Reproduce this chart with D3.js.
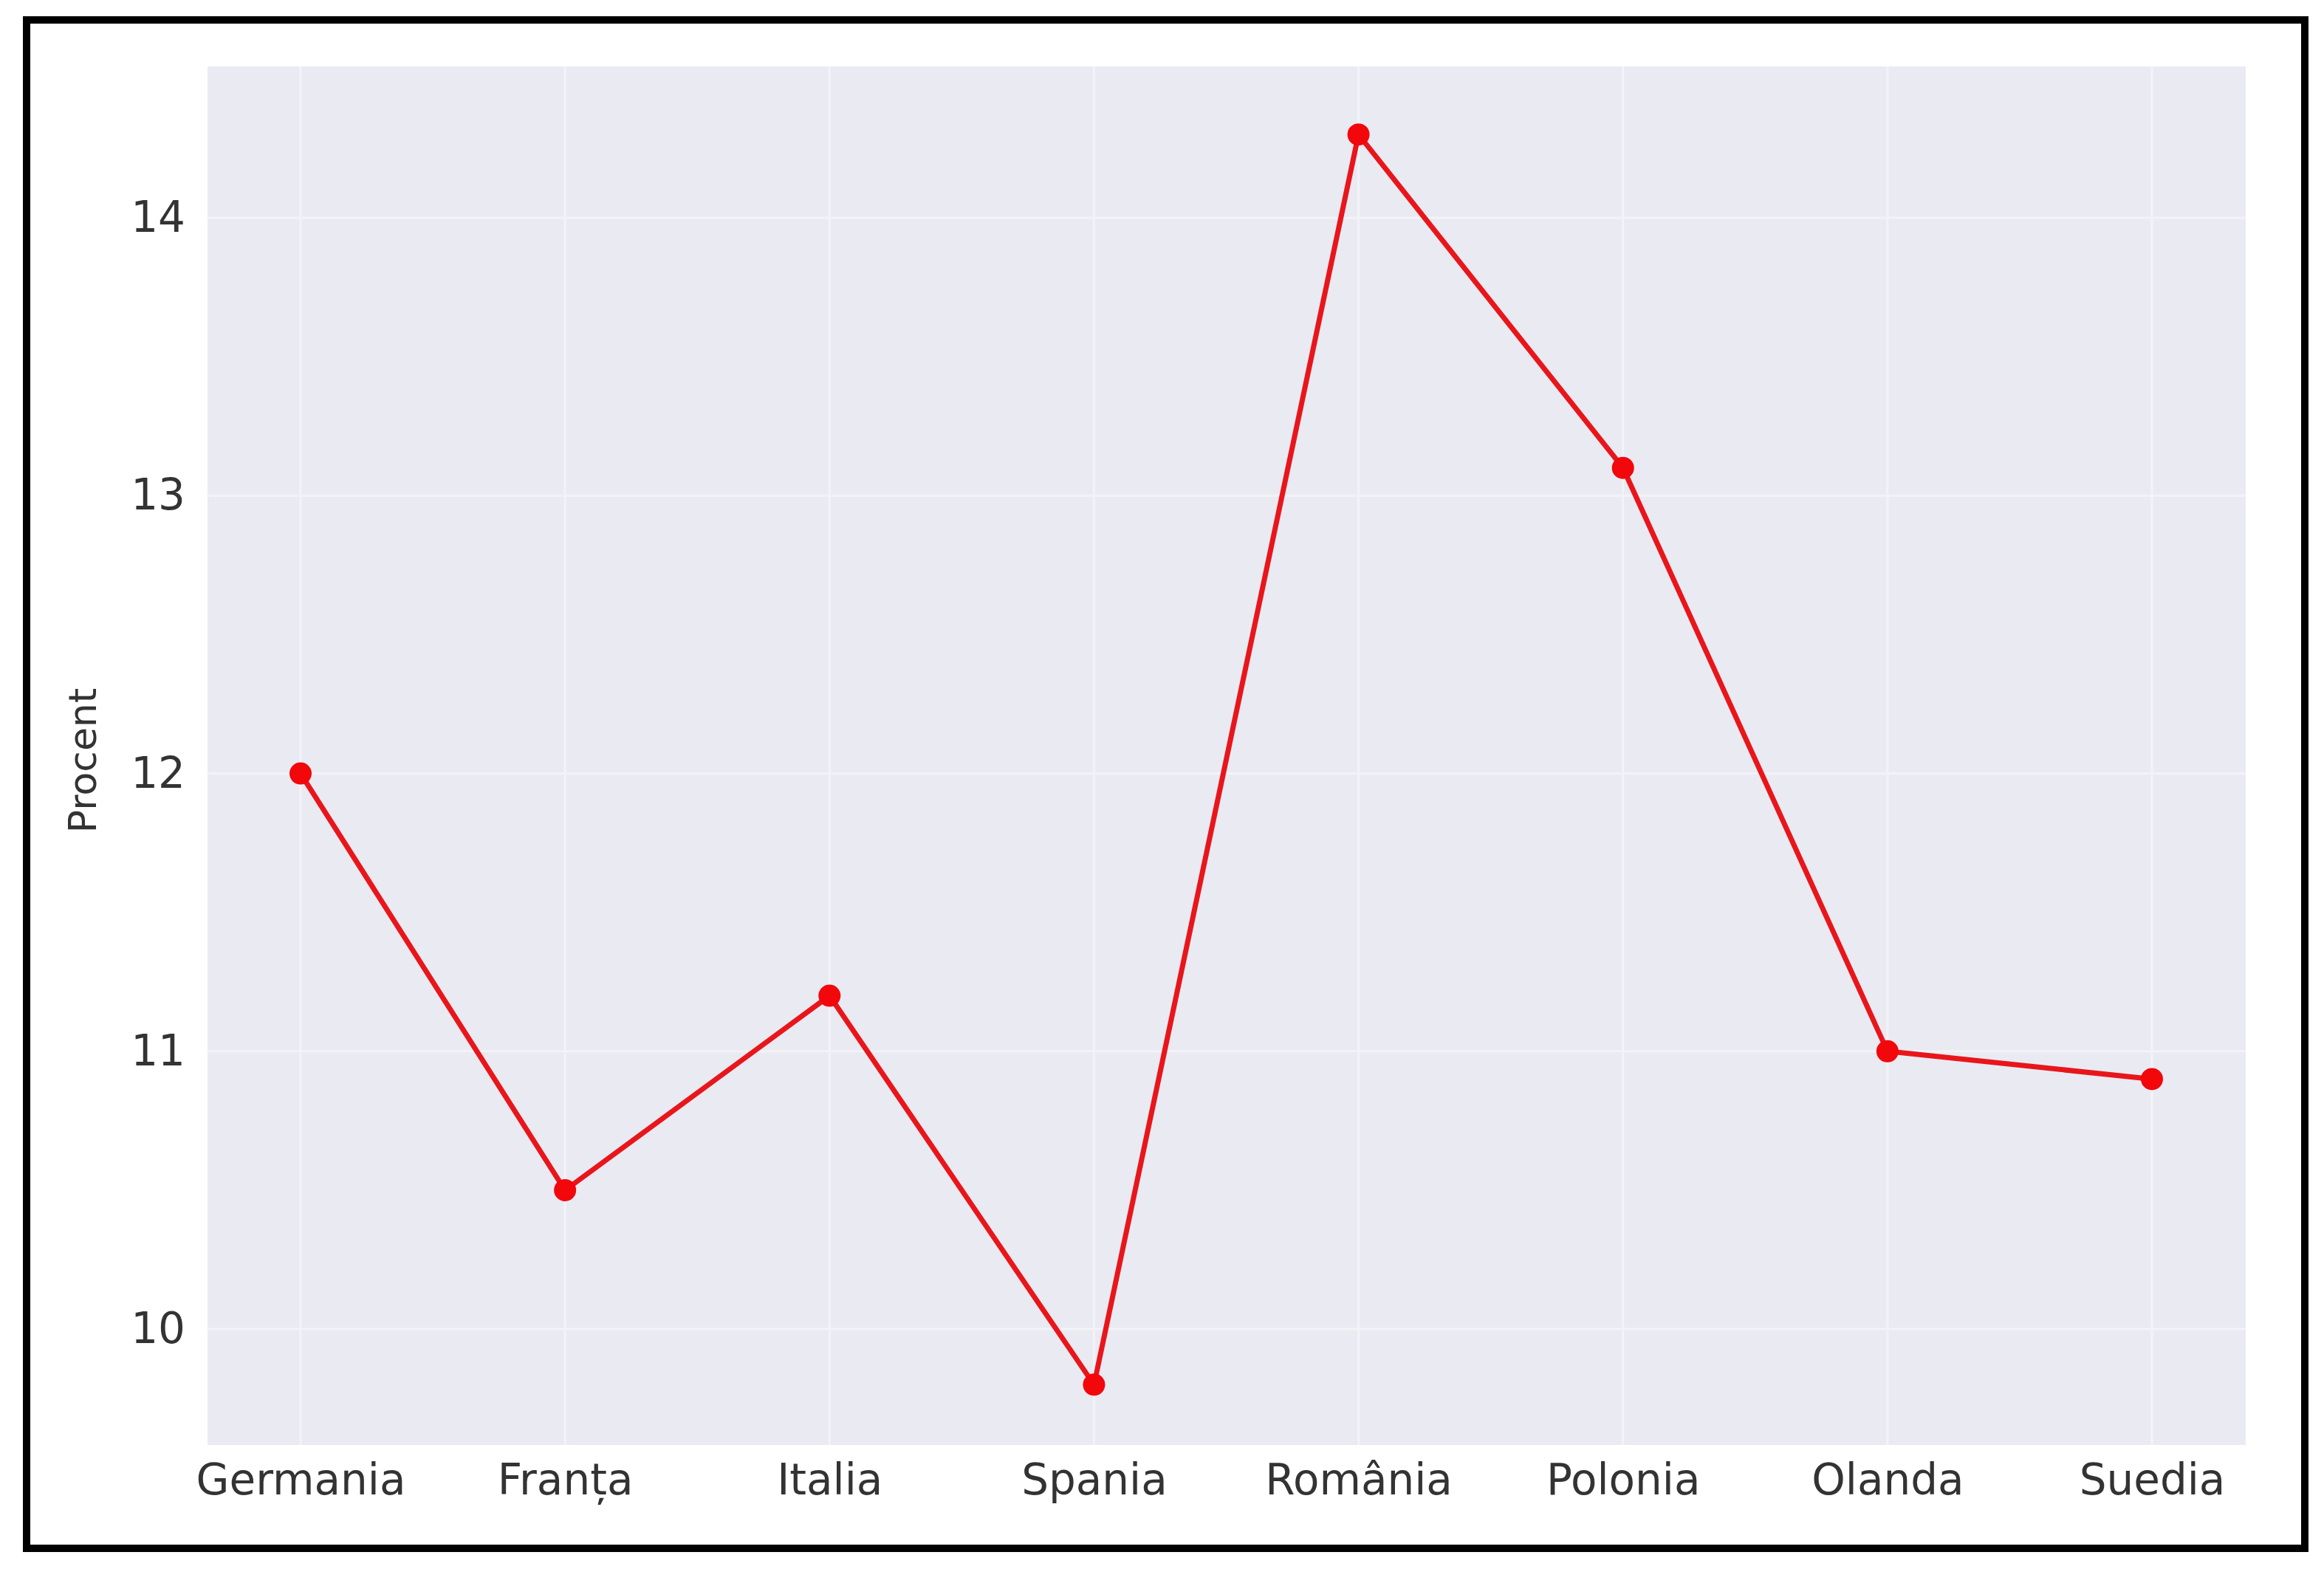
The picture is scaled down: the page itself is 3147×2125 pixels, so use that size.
<!DOCTYPE html>
<html><head><meta charset="utf-8">
<script src="https://cdn.jsdelivr.net/npm/d3@7"></script>
<style>body{margin:0;background:#fff}</style></head>
<body><svg id="c" width="3147" height="2125"></svg>
<script>
const categories = ["Germania","Franța","Italia","Spania","România","Polonia","Olanda","Suedia"];
const values = [12.0,10.5,11.2,9.8,14.3,13.1,11.0,10.9];
const yTicks = [10,11,12,13,14];

const svg = d3.select("#c");
svg.append("rect").attr("x",36).attr("y",27).attr("width",3085).attr("height",2070)
  .attr("fill","#fff").attr("stroke","#000").attr("stroke-width",10);
const L=281,R=3041,T=90,B=1957;
svg.append("rect").attr("x",L).attr("y",T).attr("width",R-L).attr("height",B-T).attr("fill","#eaeaf2");
const x = d3.scalePoint().domain(categories).range([407,2914]);
const y = d3.scaleLinear().domain([9.583,14.545]).range([B,T]);
const g = svg.append("g");
g.selectAll(".vg").data(categories).join("line").attr("x1",d=>x(d)).attr("x2",d=>x(d))
  .attr("y1",T).attr("y2",B).attr("stroke","#f3f3f7").attr("stroke-width",3);
g.selectAll(".hg").data(yTicks).join("line").attr("y1",d=>y(d)).attr("y2",d=>y(d))
  .attr("x1",L).attr("x2",R).attr("stroke","#f3f3f7").attr("stroke-width",3);
const xa = svg.append("g").attr("transform",`translate(0,${B})`).call(d3.axisBottom(x).tickSize(0).tickPadding(26));
const ya = svg.append("g").attr("transform",`translate(${L},0)`).call(d3.axisLeft(y).tickValues(yTicks).tickFormat(d3.format("d")).tickSize(0).tickPadding(30));
[xa,ya].forEach(a=>{a.select(".domain").remove();a.selectAll("text").attr("font-family","DejaVu Sans").attr("font-size",58).attr("fill","#333");});
svg.append("text").attr("transform","translate(130,1030) rotate(-90)").attr("text-anchor","middle")
  .attr("font-family","DejaVu Sans").attr("font-size",52).attr("fill","#333").text("Procent");
const line = d3.line().x((d,i)=>x(categories[i])).y(d=>y(d));
svg.append("path").datum(values).attr("d",line).attr("fill","none").attr("stroke","#e8161b").attr("stroke-width",7);
svg.selectAll(".pt").data(values).join("circle").attr("cx",(d,i)=>x(categories[i])).attr("cy",d=>y(d))
  .attr("r",15).attr("fill","#f2070b");
</script></body></html>
